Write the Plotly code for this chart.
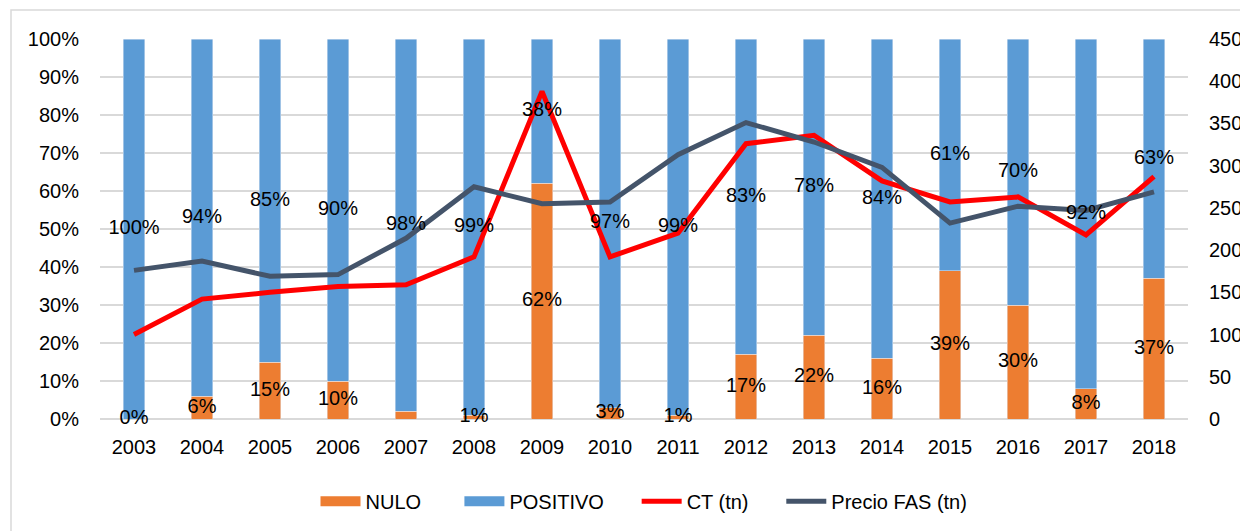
import plotly.graph_objects as go

years = ["2003", "2004", "2005", "2006", "2007", "2008", "2009", "2010",
         "2011", "2012", "2013", "2014", "2015", "2016", "2017", "2018"]
nulo = [0, 6, 15, 10, 2, 1, 62, 3, 1, 17, 22, 16, 39, 30, 8, 37]
nulo_labels = ["0%", "6%", "15%", "10%", "", "1%", "62%", "3%",
               "1%", "17%", "22%", "16%", "39%", "30%", "8%", "37%"]
positivo = [100, 94, 85, 90, 98, 99, 38, 97, 99, 83, 78, 84, 61, 70, 92, 63]
ct = [100, 142, 150, 157, 159, 192, 388, 192, 220, 326, 336, 282, 257, 263, 218, 287]
precio_fas = [176, 187, 169, 171, 214, 275, 255, 257, 313, 351, 328, 298, 232, 252, 247, 269]

ORANGE, BLUE, RED, SLATE = "#ED7D31", "#5B9BD5", "#FF0000", "#44546A"
FONT = "Liberation Sans Narrow, Arial Narrow, Liberation Sans, Arial"
label_font = dict(family=FONT, size=20, color="black")
NB = "\u00a0"

fig = go.Figure()

# stacked bars (legend handled by the swatch traces below)
fig.add_trace(go.Bar(x=years, y=nulo, name="NULO", marker_color=ORANGE, showlegend=False))
fig.add_trace(go.Bar(x=years, y=positivo, name="POSITIVO", marker_color=BLUE, showlegend=False))

# lines on the secondary axis
fig.add_trace(go.Scatter(x=years, y=ct, name="CT (tn)", yaxis="y2", mode="lines",
                         line=dict(color=RED, width=5), showlegend=False))
fig.add_trace(go.Scatter(x=years, y=precio_fas, name="Precio FAS (tn)", yaxis="y2", mode="lines",
                         line=dict(color=SLATE, width=5), showlegend=False))

# data labels, centred in each segment, drawn above the lines
nulo_mid = [n / 2 for n in nulo]
pos_mid = [n + p / 2 for n, p in zip(nulo, positivo)]
fig.add_trace(go.Scatter(x=years, y=nulo_mid, text=nulo_labels, mode="text", yaxis="y3",
                         textfont=label_font, showlegend=False, cliponaxis=False))
fig.add_trace(go.Scatter(x=years, y=pos_mid, text=[f"{v}%" for v in positivo], mode="text",
                         yaxis="y3", textfont=label_font, showlegend=False, cliponaxis=False))

# legend swatches
for name, color, width in [("NULO" + NB * 6, ORANGE, 13), ("POSITIVO" + NB * 5, BLUE, 13),
                           ("CT (tn)" + NB * 5, RED, 5), ("Precio FAS (tn)", SLATE, 5)]:
    fig.add_trace(go.Scatter(x=[None], y=[None], name=name, mode="lines",
                             line=dict(color=color, width=width)))

# outer chart border
fig.add_shape(type="rect", xref="paper", yref="paper",
              x0=-0.0818, x1=1.3, y0=-0.7, y1=1.0763,
              line=dict(color="#D9D9D9", width=1.5))

fig.update_layout(
    barmode="stack",
    bargap=0.68,
    width=1248, height=531,
    margin=dict(l=92, r=68, t=31, b=120),
    plot_bgcolor="white", paper_bgcolor="white",
    font=dict(family=FONT, size=20, color="black"),
    xaxis=dict(range=[-0.5, len(years) - 0.5], showgrid=False, showline=False,
               ticks="", ticklabelstandoff=14),
    yaxis=dict(range=[0, 100], tickvals=list(range(0, 101, 10)),
               ticktext=[f"{v}%" for v in range(0, 101, 10)],
               showgrid=True, gridcolor="#D9D9D9", gridwidth=1.5,
               zeroline=True, zerolinecolor="#D9D9D9", zerolinewidth=1.5,
               ticks="", ticklabelstandoff=20),
    yaxis2=dict(range=[0, 450], tickvals=list(range(0, 451, 50)),
                overlaying="y", side="right", showgrid=False, zeroline=False,
                ticks="", ticklabelstandoff=20),
    yaxis3=dict(range=[0, 100], overlaying="y", visible=False),
    legend=dict(orientation="h", x=0.5, xanchor="center", y=-0.165, yanchor="top",
                font=dict(family=FONT, size=20), itemwidth=40, traceorder="normal"),
    showlegend=True
)

fig.write_html("out.html")
